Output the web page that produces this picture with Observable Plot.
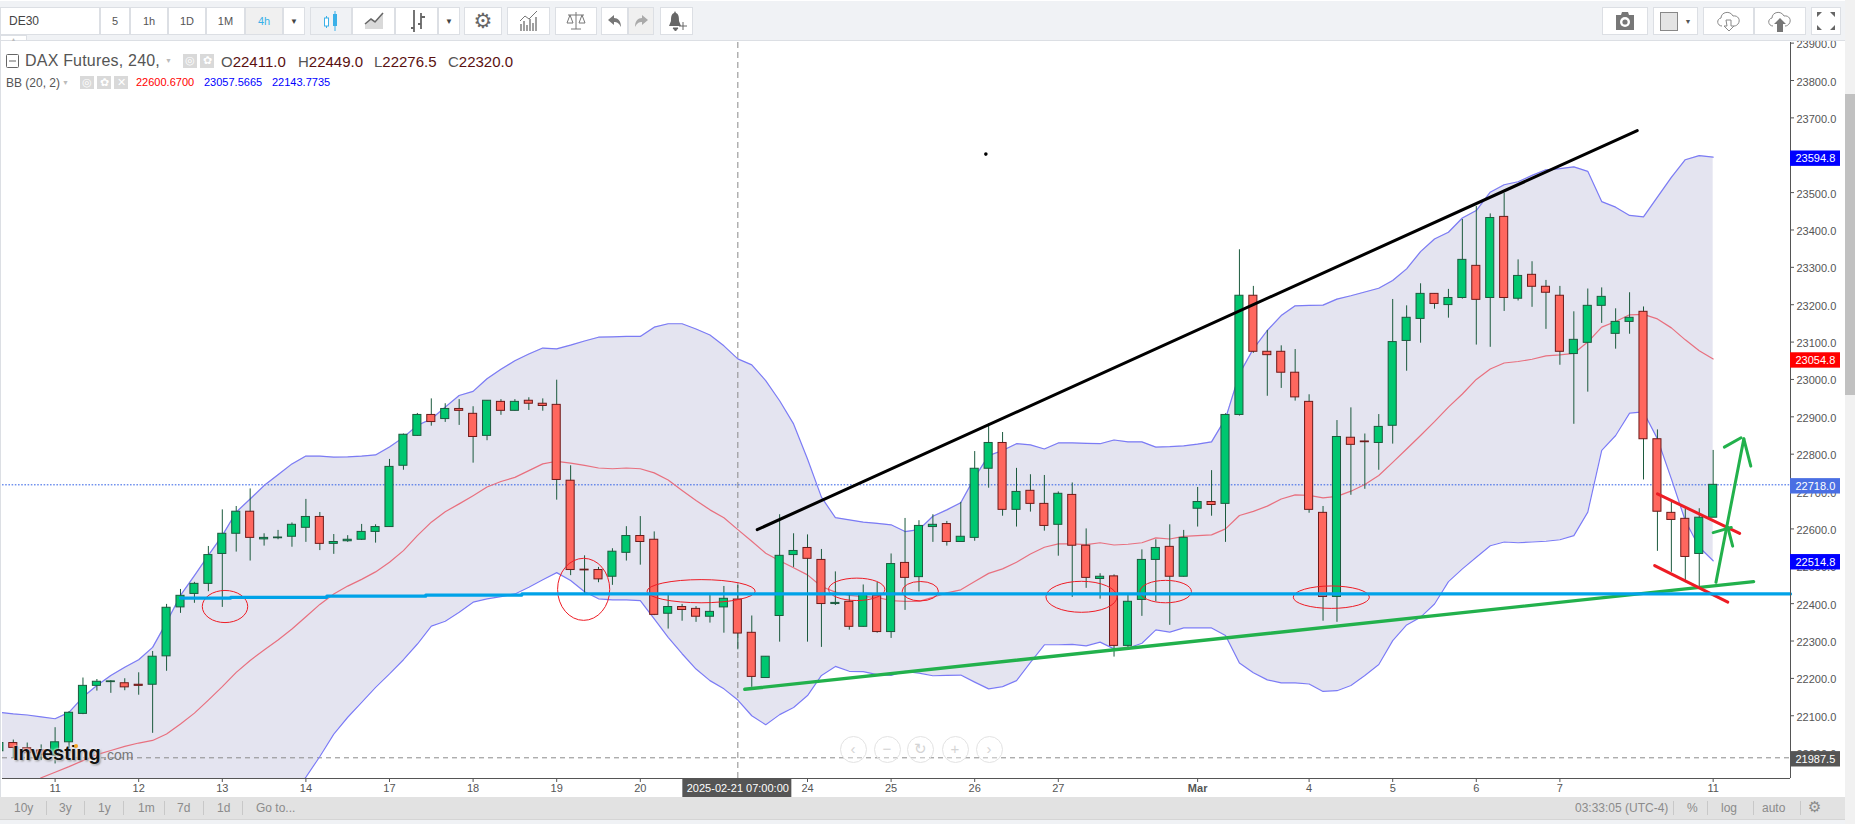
<!DOCTYPE html>
<html>
<head>
<meta charset="utf-8">
<script src="https://cdn.jsdelivr.net/npm/d3@7"></script>
<script src="https://cdn.jsdelivr.net/npm/@observablehq/plot@0.6"></script>
<style>
html,body{margin:0;padding:0;background:#fff;overflow:hidden;font-family:"Liberation Sans",Arial,sans-serif}
#wrap{position:relative;width:1855px;height:824px;overflow:hidden}
.abs{position:absolute;white-space:nowrap}
.btn{position:absolute;top:7px;height:28px;background:#fff;box-sizing:border-box;border:1px solid #dcdfe4;display:flex;align-items:center;justify-content:center;font-size:11px;color:#555}
.sq{position:absolute;background:#d9d9d9;color:#fff;text-align:center;font-size:11px;line-height:13px}
.nav{position:absolute;top:736px;width:27px;height:27px;border:1.5px solid #e3e3e3;border-radius:50%;box-sizing:border-box;color:#d4d4d4;text-align:center;line-height:23px;font-size:15px;background:rgba(255,255,255,.35)}
</style>
</head>
<body>
<div id="wrap"></div>
<script>
// Bar positions on the time axis (one bar = 4 hours; 0 is the bar of the 11th)
const firstBar = -4;
const opens = [
22005,22027,22013,22007,21994,22029,22105,22180,22190,22187,22183,22183,22259,22390,22426,22453,22533,22587,22646,22572,22575,22579,22603,22632,22560,22567,22571,22592,22605,22769,22849,22905,22894,22921,22908,22849,22940,22916,22943,22935,22932,22729,22491,22490,22472,22536,22581,22571,22373,22391,22386,22365,22390,22411,22322,22201,22367,22530,22549,22517,22399,22405,22338,22422,22324,22509,22471,22605,22613,22565,22576,22761,22830,22651,22702,22667,22611,22691,22555,22466,22473,22287,22410,22517,22552,22472,22654,22672,22667,22905,23224,23074,23074,23018,22940,22643,22418,22844,22834,22830,22876,23103,23162,23229,23199,23218,23304,23218,23435,23216,23280,23248,23224,23068,23098,23197,23122,23154,23181,22840,22643,22627,22533,22630];
const highs = [
22038,22035,22027,22022,22068,22111,22201,22197,22194,22199,22215,22272,22398,22438,22457,22553,22651,22660,22707,22587,22596,22616,22679,22644,22585,22582,22612,22611,22786,22854,22909,22948,22935,22946,22927,22943,22946,22946,22951,22948,22998,22769,22528,22497,22547,22606,22633,22592,22422,22398,22392,22422,22446,22449,22367,22258,22638,22587,22584,22545,22485,22422,22450,22457,22533,22628,22622,22638,22620,22671,22807,22881,22858,22762,22745,22743,22699,22723,22600,22480,22477,22422,22544,22571,22611,22596,22711,22756,22908,23347,23249,23131,23090,23080,22959,22660,22890,22924,22854,22906,23214,23197,23256,23229,23241,23428,23463,23443,23498,23320,23315,23265,23249,23181,23242,23245,23189,23232,23194,22865,22671,22654,22654,22810];
const lows = [
21998,21985,21980,21980,21971,22007,22103,22166,22160,22167,22155,22053,22219,22374,22401,22432,22390,22538,22514,22554,22571,22551,22564,22542,22532,22564,22569,22562,22605,22757,22848,22875,22885,22877,22776,22836,22904,22915,22917,22915,22677,22475,22426,22456,22449,22514,22503,22368,22332,22353,22350,22348,22321,22276.5,22176,22201,22297,22497,22297,22283,22395,22329,22337,22321,22307,22382,22431,22564,22554,22564,22567,22709,22634,22605,22645,22594,22527,22417,22441,22412,22257,22276,22366,22405,22342,22471,22605,22634,22564,22902,23070,22955,22976,22942,22642,22353,22350,22690,22706,22757,22827,23022,23097,23188,23164,23215,23092,23086,23182,23210,23193,23134,23038,22880,22966,23150,23081,23121,22731,22540,22484,22456,22444,22630];
const closes = [
22027,22014,22000,21996,22029,22108,22180,22191,22192,22176,22180,22258,22389,22421,22453,22530,22587,22646,22576,22576,22577,22611,22632,22560,22565,22571,22592,22605,22766,22852,22905,22886,22921,22916,22846,22943,22916,22940,22935,22929,22731,22490,22489,22465,22539,22581,22565,22370,22391,22383,22365,22378,22413,22320,22204,22258,22528,22541,22520,22399,22402,22338,22426,22324,22506,22469,22608,22611,22565,22579,22761,22830,22651,22699,22667,22608,22694,22555,22469,22472,22287,22405,22517,22549,22472,22576,22672,22664,22905,23224,23074,23065,23018,22952,22651,22418,22846,22825,22832,22873,23100,23165,23229,23202,23218,23320,23213,23432,23218,23277,23248,23232,23074,23106,23197,23221,23154,23165,22840,22646,22624,22525,22630,22718];
const bbUpper = [
22109,22105,22102,22097,22092,22109,22150,22181,22208,22230,22250,22283,22350,22422,22475,22529,22582,22645,22680,22716,22745,22774,22795,22795,22792,22793,22795,22798,22819,22845,22877,22894,22926,22957,22968,23002,23027,23050,23068,23084,23082,23092,23103,23113,23114,23115,23115,23140,23149,23149,23135,23119,23090,23055,23039,22997,22943,22881,22787,22685,22630,22624,22618,22615,22611,22593,22598,22634,22651,22670,22738,22796,22810,22828,22825,22814,22830,22830,22829,22828,22838,22833,22833,22819,22820,22822,22827,22833,22895,23015,23082,23131,23171,23197,23198,23199,23215,23224,23234,23244,23265,23296,23342,23376,23394,23432,23452,23501,23521,23529,23546,23561,23564,23569,23557,23476,23461,23439,23435,23488,23541,23588,23599,23594.8];
const bbMiddle = [
21860,21880,21905,21934,21949,21964,21980,21996,22007,22018,22027,22034,22051,22078,22107,22142,22178,22216,22248,22276,22303,22332,22365,22398,22426,22447,22465,22485,22511,22542,22582,22618,22646,22667,22689,22712,22727,22738,22756,22774,22781,22776,22770,22763,22761,22763,22761,22750,22731,22703,22676,22651,22630,22598,22567,22535,22515,22496,22477,22446,22431,22422,22419,22417,22408,22406,22406,22417,22429,22437,22459,22481,22493,22511,22533,22551,22560,22560,22558,22563,22557,22559,22563,22576,22573,22580,22582,22584,22600,22636,22647,22661,22680,22691,22690,22683,22687,22701,22719,22743,22778,22814,22850,22887,22926,22961,23000,23028,23044,23048,23054,23063,23066,23070,23100,23140,23155,23173,23174,23162,23138,23106,23077,23054.8];
const bbLower = [
21500,21520,21540,21560,21580,21590,21600,21610,21620,21630,21640,21650,21660,21670,21690,21710,21740,21770,21800,21830,21860,21885,21936,21991,22051,22096,22136,22176,22212,22250,22292,22340,22353,22377,22404,22413,22419,22426,22444,22464,22483,22462,22432,22413,22410,22410,22408,22359,22310,22266,22225,22194,22172,22142,22100,22076,22103,22122,22154,22208,22232,22219,22218,22210,22208,22219,22214,22207,22208,22209,22190,22172,22178,22194,22243,22290,22290,22291,22287,22297,22279,22281,22294,22330,22324,22335,22335,22335,22315,22241,22215,22196,22188,22188,22185,22165,22167,22181,22208,22237,22301,22343,22364,22399,22459,22493,22524,22555,22565,22563,22565,22567,22571,22582,22645,22810,22850,22910,22913,22841,22734,22622,22551,22514.8];

// Hand-drawn annotations, as [bar, price] pairs
const blackTrend = [[50.39,22598],[113.55,23666]];
const blackSpeck = [[66.8,23603]];
const blueLevel = [[9,22415],[12.6,22417],[19.5,22420],[26.6,22423],[33.5,22426],[124.55,22426]];
const greenSupport = [[49.5,22171],[121.9,22459]];
const redTop = [[115,22694],[120.9,22588]];
const redBottom = [[114.8,22502],[120.05,22404]];
const arrowShaft = [[119.2,22457],[121.2,22841]];
const arrowLeft = [[119.8,22819],[121,22844]];
const arrowRight = [[121.2,22841],[121.7,22768]];
const arrowMidLeft = [[119,22590],[120.3,22604]];
const arrowMidRight = [[120.05,22604],[120.4,22554]];
// Circled areas: bar, price, half-width in bars, half-height in price
const circled = [
[12.23,22391,1.63,43],[37.97,22437,1.87,83],[46.4,22432,3.88,31],[57.57,22437,2.02,30],
[62.13,22432,1.3,26],[73.7,22417,2.55,41.5],[79.74,22431,1.85,30],[91.63,22416,2.73,30]];

// Axes
const xTickBars = [0,6,12,18,24,30,36,42,54,60,66,72,90,96,102,108,119];
const xTickNames = ["11","12","13","14","17","18","19","20","24","25","26","27","4","5","6","7","11"];
const monthBar = 82, monthName = "Mar";
const cursorBar = 49, cursorName = "2025-02-21 07:00:00";
const yTicks = [22000,22100,22200,22300,22400,22500,22600,22700,22800,22900,23000,23100,23200,23300,23400,23500,23700,23800,23900];
const xDomain = [-3.775,124.55];
const yDomain = [21932.1,23901.7];

// Price tags on the right edge
const tagValues = [23594.8,23054.8,22718,22514.8,21987.5];
const tagFills = ["#0000ff","#ff0000","#4a6fe3","#0000ff","#555555"];
const lastPrice = 22718, previousLow = 21987.5;

const rows = opens.map((o,i)=>({bar:firstBar+i,o,h:highs[i],l:lows[i],c:closes[i],u:bbUpper[i],m:bbMiddle[i],b:bbLower[i]}));
const up = d=>d.c>=d.o;
const tags = tagValues.map((v,i)=>({v,fill:tagFills[i]}));
const xEnd = xDomain[1];
const tickLabel = new Map(xTickBars.map((b,i)=>[b,xTickNames[i]]));
const pxX = 13.933, pxY = 2.676;

const ellipses = (index,{x,y})=>{
  const g = d3.create("svg:g").attr("fill","none").attr("stroke","#ee1c25").attr("stroke-width",1);
  for(const [b,p,rb,rp] of circled){
    g.append("ellipse").attr("cx",x(b)).attr("cy",y(p))
     .attr("rx",Math.abs(x(b+rb)-x(b))).attr("ry",Math.abs(y(p+rp)-y(p)));
  }
  return g.node();
};
const seg = (pts,stroke,w,extra={})=>Plot.line(pts,{x:d=>d[0],y:d=>d[1],stroke,strokeWidth:w,...extra});

const chart = Plot.plot({
  width:1855,height:824,
  marginTop:42,marginBottom:46,marginLeft:2,marginRight:65,
  style:{background:"transparent",fontFamily:'"Liberation Sans",Arial,sans-serif',fontSize:"11px",color:"#555",overflow:"visible"},
  x:{type:"linear",domain:xDomain},
  y:{type:"linear",domain:yDomain},
  marks:[
    Plot.areaY(rows,{x:"bar",y1:"b",y2:"u",fill:"#e4e4f0",clip:true}),
    Plot.ruleY([lastPrice],{stroke:"#2f5fe6",strokeDasharray:"1.6 1.6",strokeWidth:1}),
    Plot.ruleY([previousLow],{stroke:"#8a8a8a",strokeDasharray:"5 4",strokeWidth:1}),
    Plot.ruleX([cursorBar],{stroke:"#8a8a8a",strokeDasharray:"6 4",strokeWidth:1}),
    Plot.line(rows,{x:"bar",y:"u",stroke:"#7b7bf5",strokeWidth:1.2,clip:true}),
    Plot.line(rows,{x:"bar",y:"b",stroke:"#7b7bf5",strokeWidth:1.2,clip:true}),
    Plot.line(rows,{x:"bar",y:"m",stroke:"#e8707f",strokeWidth:1.2,clip:true}),
    Plot.ruleX(rows,{x:"bar",y1:"l",y2:"h",stroke:"#1c5a3e",strokeWidth:1,clip:true}),
    Plot.rect(rows,{x1:d=>d.bar-0.29,x2:d=>d.bar+0.29,y1:"o",y2:"c",fill:d=>up(d)?"#00c770":"#ff675e",stroke:d=>up(d)?"#1c5a3e":"#6e1a1a",strokeWidth:1,clip:true}),
    seg(blackTrend,"#000",3),
    Plot.dot(blackSpeck,{x:d=>d[0],y:d=>d[1],r:1.8,fill:"#000"}),
    ellipses,
    seg(greenSupport,"#22b14c",3.4),
    seg(redTop,"#ed1c24",3),
    seg(redBottom,"#ed1c24",3),
    seg(arrowShaft,"#22b14c",3),seg(arrowLeft,"#22b14c",3),seg(arrowRight,"#22b14c",3),
    seg(arrowMidLeft,"#22b14c",3),seg(arrowMidRight,"#22b14c",3),
    seg(blueLevel,"#00a2e8",3.2,{curve:"step-after"}),
    Plot.ruleY([yDomain[0]],{stroke:"#555"}),
    Plot.ruleX([xEnd],{stroke:"#555"}),
    Plot.axisX({ticks:xTickBars,tickFormat:d=>tickLabel.get(d),tickSize:4,tickPadding:2,label:null,stroke:"#555",fill:"#555"}),
    Plot.axisX({ticks:[monthBar],tickFormat:()=>monthName,tickSize:4,tickPadding:2,label:null,fontWeight:"bold",stroke:"#555",fill:"#555"}),
    Plot.axisY({anchor:"right",ticks:yTicks,tickFormat:null,tickSize:3,label:null,stroke:"#555",text:null}),
    Plot.text(yTicks,{x:()=>xEnd,y:d=>d,dx:6,dy:1.5,text:d=>d.toFixed(1),textAnchor:"start",fill:"#555",fontSize:11}),
    Plot.rect(tags,{x1:()=>xEnd,x2:()=>xEnd+50/pxX,y1:d=>d.v-4-7.7*pxY,y2:d=>d.v-4+7.7*pxY,fill:"fill"}),
    Plot.text(tags,{x:()=>xEnd,y:d=>d.v-4,dx:5,text:d=>d.v.toFixed(1),textAnchor:"start",fill:"#fff",fontSize:11}),
    Plot.rect([cursorBar],{x1:d=>d-55/pxX,x2:d=>d+54/pxX,y1:()=>yDomain[0]-0.4*pxY,y2:()=>yDomain[0]-19*pxY,fill:"#555"}),
    Plot.text([cursorBar],{x:d=>d,y:()=>yDomain[0]-10*pxY,text:()=>cursorName,fill:"#fff",fontSize:11})
  ]
});
const wrap = document.getElementById("wrap");
chart.style.position="absolute";chart.style.left="0";chart.style.top="0";
wrap.appendChild(chart);

function add(html,style,cls="abs"){const e=document.createElement("div");e.className=cls;e.innerHTML=html;e.style.cssText=style;wrap.appendChild(e);return e;}
// Top strip
add("","left:0;top:1px;width:1845px;height:40px;background:#f0f2f5;border-bottom:1.5px solid #dcdfe4;box-sizing:border-box");
add("▲","left:0;top:35px;width:27px;height:6px;background:#fff;color:#bbb;font-size:5px;line-height:6px;text-align:center;border:1px solid #dcdfe4;box-sizing:border-box");
const ic = {
 candle:'<svg width="16" height="22" viewBox="0 0 16 22"><path d="M3.5 6v12M12 1v20" stroke="#3ab0e8"/><rect x="1.5" y="8" width="4" height="8" fill="#fff" stroke="#3ab0e8"/><rect x="10" y="4" width="4" height="12" fill="#3ab0e8"/></svg>',
 line:'<svg width="20" height="20" viewBox="0 0 20 20"><path d="M1 18V13L7 9l4 3 8-9v15z" fill="#d9d9d9"/><path d="M1 13L7 8l4 3 8-9" fill="none" stroke="#666" stroke-width="1.6"/></svg>',
 bars:'<svg width="18" height="24" viewBox="0 0 18 24"><path d="M6 1v22M3 19h3M13 4v16M13 8h4M13 15h-3" stroke="#666" stroke-width="1.8" fill="none"/></svg>',
 gear:'<span style="font-family:DejaVu Sans;font-size:21px;color:#666">⚙</span>',
 ind:'<svg width="20" height="22" viewBox="0 0 20 22"><path d="M2 21v-7M5 21v-10M8 21v-6M11 21v-12M14 21v-8M17 21v-14" stroke="#777" stroke-width="1.4"/><path d="M1 11l5-5 4 3 8-8" fill="none" stroke="#777"/></svg>',
 scale:'<svg width="20" height="20" viewBox="0 0 20 20"><path d="M10 1v17M5 18h10M2 4h16M4 4L1 12h6zM16 4l-3 8h6z" fill="none" stroke="#777"/></svg>',
 undo:'<svg width="16" height="16" viewBox="0 0 16 16"><path d="M7 2L1 7l6 5V9c3 0 5 1 7 5 0-6-3-9-7-9z" fill="#777"/></svg>',
 redo:'<svg width="16" height="16" viewBox="0 0 16 16"><path d="M9 2l6 5-6 5V9c-3 0-5 1-7 5 0-6 3-9 7-9z" fill="#aaa"/></svg>',
 bell:'<svg width="20" height="22" viewBox="0 0 20 22"><path d="M8 1l1 2c3 1 3 5 3 8l2 5H2l2-5c0-3 0-7 3-8z" fill="#666"/><path d="M6 18h5l-2.500 3zM16 12v8M12 16h8" fill="#666" stroke="#666"/></svg>',
 cam:'<svg width="22" height="22" viewBox="0 0 22 22"><path d="M2 5h5l1-3h6l1 3h5v15H2z" fill="#777"/><circle cx="11" cy="12" r="5" fill="#fff"/><circle cx="11" cy="12" r="2.600" fill="#777"/></svg>',
 col:'<span style="display:inline-block;width:16px;height:17px;background:#e4e4e4;border:1px solid #888"></span><span style="margin-left:7px;font-size:7px">▼</span>',
 dl:'<svg width="28" height="24" viewBox="0 0 28 24"><path d="M7 17C2 17 1 10 6 9c0-6 9-8 12-2 5-1 8 4 5 8-1 1-2 2-4 2" fill="none" stroke="#888"/><path d="M11 11h5v6h3l-5 5-5-5h3z" fill="#fff" stroke="#888"/></svg>',
 ul:'<svg width="28" height="24" viewBox="0 0 28 24"><path d="M7 17C2 17 1 10 6 9c0-6 9-8 12-2 5-1 8 4 5 8-1 1-2 2-4 2" fill="none" stroke="#888"/><path d="M11 23v-8H8l6-6 6 6h-3v8z" fill="#777"/></svg>',
 full:'<svg width="20" height="20" viewBox="0 0 20 20"><path d="M1 1h5L1 6zM19 1h-5l5 5zM1 19h5l-5-5zM19 19h-5l5-5z" fill="#666"/></svg>'
};
const buttons = [
[0,100,'<span style="font-size:12px;position:absolute;left:8px;color:#444">DE30</span>'],[100,30,"5"],[130,38,"1h"],[168,38,"1D"],[206,39,"1M"],
[245,38,'<span style="color:#3ab0e8">4h</span>',"#f0f0f0"],[283,22,'<span style="font-size:8px;color:#444">▼</span>'],
[310,42,ic.candle,"#f0f2f5"],[352,43,ic.line],[395,43,ic.bars],[438,22,'<span style="font-size:8px;color:#444">▼</span>'],
[464,38,ic.gear],[507,43,ic.ind],[555,42,ic.scale],[601,27,ic.undo],[628,26,ic.redo,"#f0f0f0"],[660,33,ic.bell],
[1602,46,ic.cam],[1653,45,ic.col],[1703,51,ic.dl],[1754,52,ic.ul],[1811,30,ic.full]];
for(const [x,w,h,bg] of buttons) add(h,`left:${x}px;width:${w}px;${bg?`background:${bg};`:""}`,"btn");

// Legend
const seriesGrey="#555", priceDark="#5a1010";
add('<svg width="13" height="14"><rect x=".5" y=".5" width="12" height="13" rx="1" fill="none" stroke="#666"/><path d="M3 7h7" stroke="#666"/></svg>',"left:6px;top:54px");
add("DAX Futures, 240,",`left:25px;top:52px;font-size:16px;color:${seriesGrey};letter-spacing:.2px`);
add("▼","left:165px;top:57px;font-size:7px;color:#bbb");
add("◎","left:183px;top:54px;width:14px;height:14px","sq");
add("✿","left:200px;top:54px;width:14px;height:14px","sq");
[["O","22411.0",221],["H","22449.0",298],["L","22276.5",374],["C","22320.0",448]].forEach(([a,b,x])=>{
  add(`<span style="color:${seriesGrey}">${a}</span><span style="color:${priceDark}">${b}</span>`,`left:${x}px;top:53px;font-size:15px`);
});
add("BB (20, 2)",`left:6px;top:76px;font-size:12px;color:${seriesGrey}`);
add("▼","left:62px;top:79px;font-size:7px;color:#bbb");
add("◎","left:80px;top:76px;width:14px;height:13px","sq");
add("✿","left:97px;top:76px;width:14px;height:13px","sq");
add("✕","left:114px;top:76px;width:14px;height:13px","sq");
[["22600.6700","#ff0000",136],["23057.5665","#0000ff",204],["22143.7735","#0000ff",272]].forEach(([t,c,x])=>add(t,`left:${x}px;top:76px;font-size:11px;color:${c}`));

// Watermark
add("Investing",'left:13px;top:742px;font-size:20px;font-weight:700;color:#111;text-shadow:0 0 2px #fff,0 0 3px #fff,1px 1px 2px #555');
add(".com",'left:103px;top:747px;font-size:14px;color:#777');
add("","left:74px;top:744px;width:4px;height:4px;border-radius:50%;background:#f5a623");
// Navigation
[["‹",853],["−",887],["↻",920],["+",955],["›",989]].forEach(([t,x])=>{add(t,`left:${x-13.5}px`,"nav");});

// Bottom bar
add("","left:0;top:797px;width:1845px;height:23px;background:#e2e2e2;border-bottom:1px solid #d5d5d5;box-sizing:border-box");
add("","left:0;top:820px;width:1855px;height:4px;background:#f0f2f5");
[["10y",14],["3y",59],["1y",98],["1m",138],["7d",177],["1d",217],["Go to...",256],["03:33:05 (UTC-4)",1575],["%",1687],["log",1721],["auto",1762]].forEach(([t,x])=>add(t,`left:${x}px;top:801px;font-size:12px;color:#8b8b8b`));
[46,84,123,164,203,242,1673,1707,1753,1800].forEach(x=>add("",`left:${x}px;top:801px;width:1px;height:14px;background:#c8c8c8`));
add("⚙","left:1808px;top:798px;font-family:DejaVu Sans;font-size:15px;color:#8b8b8b");
// Scrollbar and left edge
add("","left:1845px;top:0;width:10px;height:824px;background:#f1f1f1");
add("","left:1845px;top:94px;width:10px;height:301px;background:#c1c1c1");
add("","left:0;top:41px;width:1px;height:756px;background:#dcdfe4");
</script>
</body>
</html>
